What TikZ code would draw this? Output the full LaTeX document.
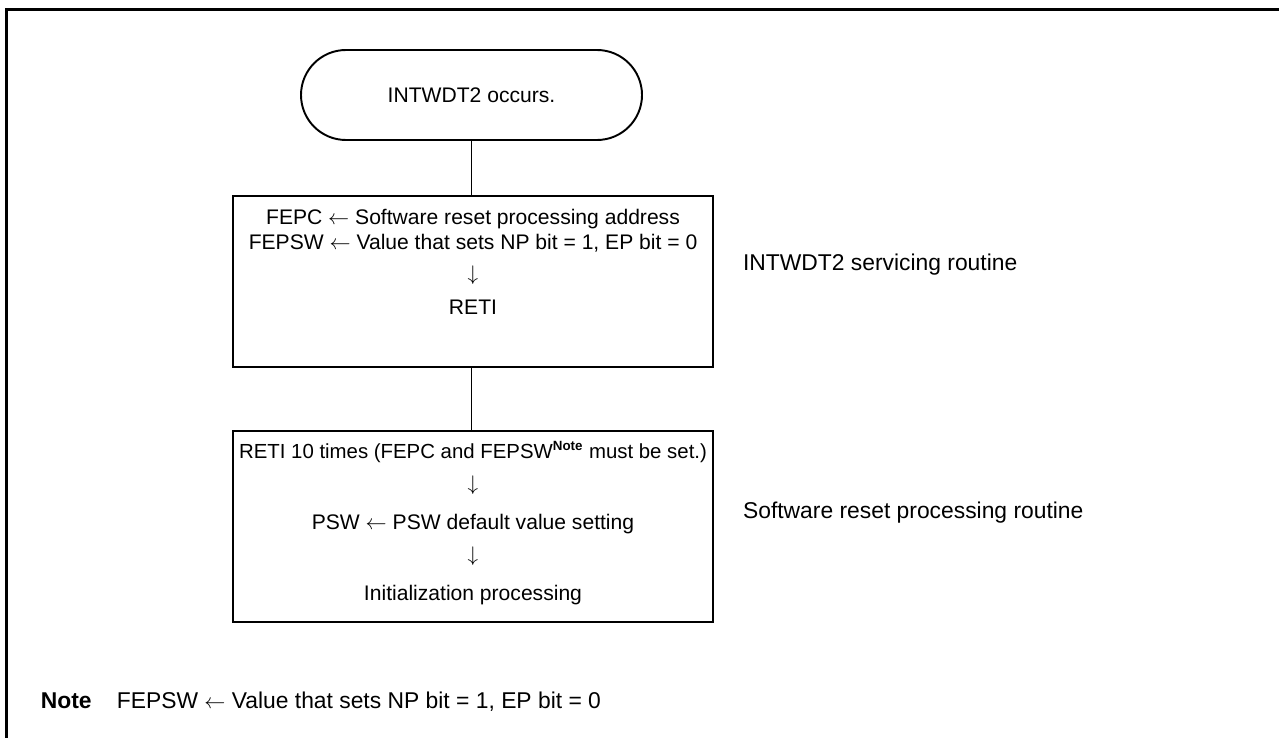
\documentclass[tikz,border=0pt]{standalone}
\usepackage{fontspec}
\setmainfont{Liberation Sans}
\usetikzlibrary{positioning}
\tikzset{
  marco/.style={line width=1.7pt},
  inicio/.style={draw,line width=1.1pt,rounded corners=0.9cm,minimum width=6.82cm,minimum height=1.8cm,font=\fontsize{12}{14}\selectfont},
  caja/.style={draw,line width=1.4pt,minimum width=9.6cm},
  txt/.style={align=center,inner sep=0pt,font=\fontsize{12}{14.2}\selectfont},
  rotulo/.style={anchor=base west,inner sep=0pt,font=\fontsize{13}{15}\selectfont},
  enlace/.style={line width=0.6pt}
}
\newcommand{\nota}{\textsuperscript{\fontsize{7.6}{9}\selectfont\bfseries Note}}

\begin{document}
\begin{tikzpicture}
\useasboundingbox (0,0) rectangle (25.58,-14.76);
\draw[marco] (0.13,-14.76) -- (0.13,-0.19) -- (25.58,-0.19);
\node[inicio] (inicio) at (9.43,-1.9) {INTWDT2 occurs.};
\node[caja,minimum height=3.42cm] (servicio) at (9.46,-5.63) {};
\node[caja,minimum height=3.82cm] (reset) at (9.46,-10.53) {};
\draw[enlace] (inicio.south) -- (inicio.south |- servicio.north);
\draw[enlace] (inicio.south |- servicio.south) -- (inicio.south |- reset.north);
\node[txt,anchor=north] (t1) at ([yshift=-0.29cm]servicio.north) {FEPC $\leftarrow$ Software reset processing address\\ FEPSW $\leftarrow$ Value that sets NP bit = 1, EP bit = 0\\[3.2pt] $\downarrow$\\[5.4pt] RETI};
\node[txt,anchor=north,font=\fontsize{12}{18.5}\selectfont] (t2) at ([yshift=-0.23cm]reset.north) {{\fontsize{11.6}{18.5}\selectfont RETI 10 times (FEPC and FEPSW\nota{} must be set.)}\\ $\downarrow$\\[3.3pt] PSW $\leftarrow$ PSW default value setting\\ $\downarrow$\\[3.3pt] Initialization processing};
\node[rotulo] (etiq1) at ([xshift=0.57cm,yshift=0.22cm]servicio.east) {INTWDT2 servicing routine};
\node[rotulo] (etiq2) at ([xshift=0.57cm,yshift=0.17cm]reset.east) {Software reset processing routine};
\node[rotulo,font=\fontsize{13}{15}\selectfont\bfseries] (nota) at (0.81,-14.16) {Note};
\node[rotulo] (notatxt) at (2.33,-14.16) {FEPSW $\leftarrow$ Value that sets NP bit = 1, EP bit = 0};
\end{tikzpicture}
\end{document}
